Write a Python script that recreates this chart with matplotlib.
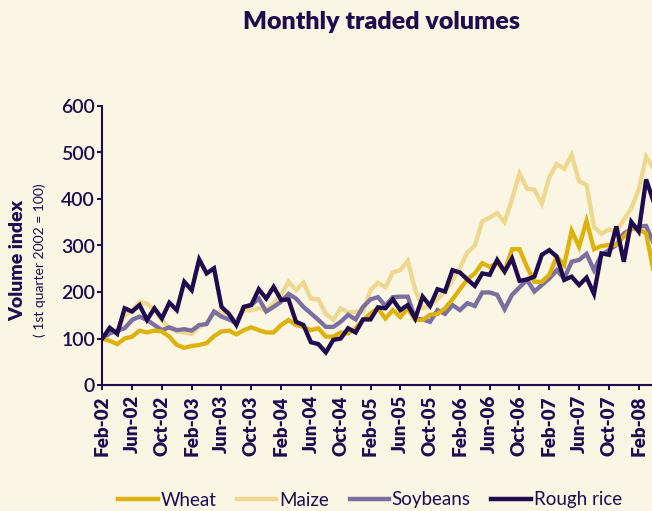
import numpy as np
from matplotlib import pyplot as plt

# monthly volume index, Feb-02 .. Apr-08 (1st quarter 2002 = 100)
wheat = [100, 95, 88, 100, 104, 117, 113, 117, 115, 104,
         86, 80, 84, 86, 90, 105, 115, 117, 109, 118,
         124, 118, 113, 113, 129, 140, 129, 125, 118, 122,
         104, 104, 113, 111, 122, 140, 154,
         165, 143, 161, 146, 165, 140, 140, 151, 153, 165,
         184, 206, 227, 240, 262, 254, 262, 244, 292, 292,
         254, 222, 222, 237, 276, 258, 332, 297, 353, 292,
         299, 301, 301, 319, 337, 335, 326, 244]
maize = [100, 112, 118, 150, 160, 178, 175, 161, 140, 122,
         115, 113, 110, 125, 133, 156, 156, 153, 133, 161,
         161, 165, 161, 176, 194, 222, 204, 220, 186, 184,
         153, 140, 165, 156, 158, 158, 204,
         220, 210, 242, 247, 267, 205, 165, 170, 185, 200,
         225, 252, 285, 300, 352, 360, 370, 350, 400, 455,
         422, 420, 390, 447, 475, 465, 495, 438, 430, 340,
         325, 335, 330, 355, 380, 420, 491, 466]
soybeans = [100, 111, 117, 122, 140, 147, 140, 129, 118, 124,
            118, 120, 117, 129, 131, 158, 147, 141, 133, 168,
            172, 186, 158, 168, 179, 196, 186, 168, 154, 140,
            125, 125, 136, 151, 141, 168, 184,
            189, 170, 189, 190, 190, 143, 141, 136, 161, 153,
            172, 161, 176, 170, 199, 199, 194, 163, 194, 210,
            226, 201, 215, 229, 247, 229, 265, 269, 282, 247,
            280, 290, 301, 326, 335, 341, 342, 305]
rough_rice = [100, 123, 110, 165, 158, 172, 140, 165, 143, 177,
              161, 222, 204, 270, 240, 251, 168, 153, 129, 168,
              172, 206, 186, 211, 183, 184, 136, 129, 92, 88,
              70, 97, 100, 122, 113, 141, 141,
              167, 165, 184, 161, 172, 143, 190, 170, 206, 201,
              247, 242, 227, 213, 240, 237, 269, 244, 272, 224,
              227, 233, 280, 290, 276, 226, 233, 215, 231, 196,
              283, 280, 341, 265, 351, 330, 442, 394]
tick_labels = ['Feb-02', 'Jun-02', 'Oct-02', 'Feb-03', 'Jun-03', 'Oct-03', 'Feb-04',
               'Jun-04', 'Oct-04', 'Feb-05', 'Jun-05', 'Oct-05', 'Feb-06', 'Jun-06',
               'Oct-06', 'Feb-07', 'Jun-07', 'Oct-07', 'Feb-08']

bg = '#FBF5E4'
ink = '#1F0B4E'
plt.rcParams['font.family'] = ['Lato', 'DejaVu Sans']

fig = plt.figure(figsize=(6.52, 5.11), dpi=100, facecolor=bg)
W, H = 652, 511
ax = fig.add_axes([102.3 / W, 1 - 385 / H, 1 - 102.3 / W, 279 / H])
ax.set_facecolor(bg)

months = np.arange(len(wheat))
lw = 3.1
ax.plot(months, maize, color='#EED78F', lw=lw, zorder=1, solid_joinstyle='miter')
ax.plot(months, soybeans, color='#7B6F9F', lw=lw, zorder=2, solid_joinstyle='miter')
ax.plot(months, wheat, color='#DDB20C', lw=lw, zorder=3, solid_joinstyle='miter')
ax.plot(months, rough_rice, color=ink, lw=lw, zorder=4, solid_joinstyle='miter')

ax.set_xlim(0, (W - 102.3) / 7.45)
ax.set_ylim(0, 600)
ax.set_yticks(range(0, 601, 100))
ax.set_xticks(np.arange(0, 4 * len(tick_labels), 4))
ax.set_xticklabels(tick_labels, rotation=90, fontweight='heavy', fontsize=13.5, color=ink)
ax.tick_params(axis='y', labelsize=14, labelcolor=ink, pad=1.5)
for t in ax.get_yticklabels():
    t.set_fontweight('semibold')
ax.tick_params(colors=ink, width=1.4, length=3.8)

for side in ['top', 'right']:
    ax.spines[side].set_visible(False)
for side in ['left', 'bottom']:
    ax.spines[side].set_color(ink)
    ax.spines[side].set_linewidth(1.5)

fig.text(382 / W, 1 - 22 / H, 'Monthly traded volumes', ha='center', va='center',
         fontsize=18, fontweight='heavy', color=ink)
fig.text(18 / W, 1 - 260 / H, 'Volume index', rotation=90, ha='center', va='center',
         fontsize=14, fontweight='heavy', color=ink)
fig.text(40 / W, 1 - 260 / H, '( 1st quarter 2002 = 100)', rotation=90, ha='center',
         va='center', fontsize=10, color=ink)

handles = [plt.Line2D([], [], color=c, lw=3.2) for c in ['#DDB20C', '#EED78F', '#7B6F9F', ink]]
leg = fig.legend(handles, ['Wheat', 'Maize', 'Soybeans', 'Rough rice'], loc='center',
                 bbox_to_anchor=(370 / W, 1 - 500 / H), ncol=4, frameon=False,
                 fontsize=13.5, handlelength=2.1, handletextpad=0.15, columnspacing=1.1)
for t in leg.get_texts():
    t.set_color(ink)

plt.savefig('out.png', dpi=100, facecolor=bg)
